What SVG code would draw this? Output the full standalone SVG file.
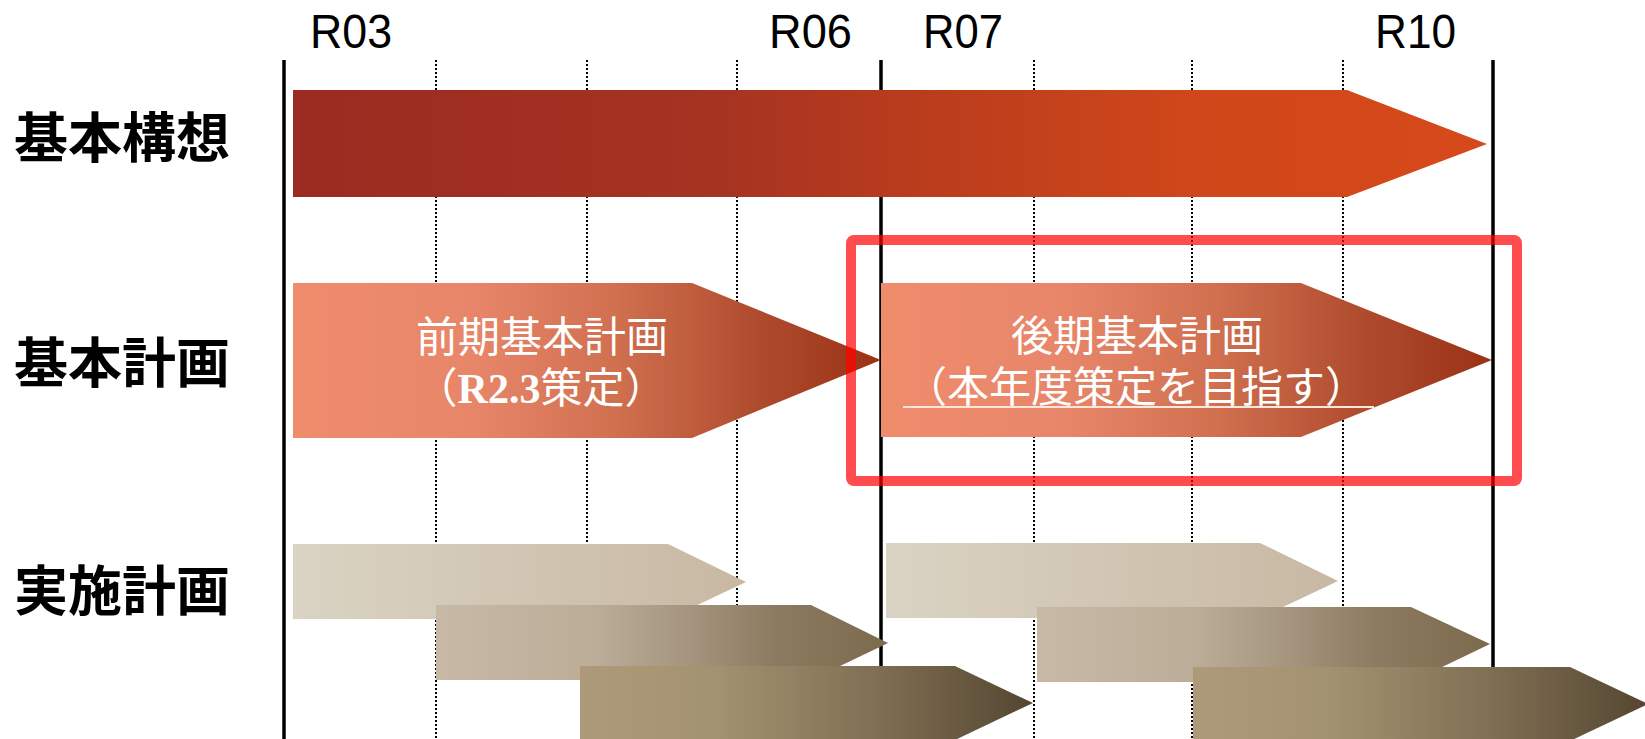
<svg xmlns="http://www.w3.org/2000/svg" width="1645" height="739" viewBox="0 0 1645 739">
  <style>
    .year { font-family: "Liberation Sans", "DejaVu Sans", sans-serif; font-size: 48px; fill: #000; }
    .label { font-family: "Noto Sans CJK JP", sans-serif; font-size: 54px; font-weight: bold; fill: #000; }
    .inner { font-family: "Liberation Serif", "Noto Sans CJK JP", serif; font-size: 42px; fill: #fff; text-anchor: middle; }
    .dot { stroke: #000; stroke-width: 2; stroke-dasharray: 2 2; fill: none; }
    .solid { stroke: #000; stroke-width: 3.5; fill: none; }
  </style>
  <defs>
    <linearGradient id="gTop" x1="0" y1="0" x2="1" y2="0">
      <stop offset="0" stop-color="#9B2B21"/>
      <stop offset="0.35" stop-color="#A53322"/>
      <stop offset="0.5" stop-color="#B73B1D"/>
      <stop offset="0.75" stop-color="#CF471A"/>
      <stop offset="1" stop-color="#D6491A"/>
    </linearGradient>
    <linearGradient id="gPlan" x1="0" y1="0" x2="1" y2="0">
      <stop offset="0" stop-color="#EF8C6C"/>
      <stop offset="0.3" stop-color="#E8866A"/>
      <stop offset="0.55" stop-color="#D0704F"/>
      <stop offset="0.8" stop-color="#AE4A2C"/>
      <stop offset="1" stop-color="#9B3216"/>
    </linearGradient>
    <linearGradient id="gA" x1="0" y1="0" x2="1" y2="0">
      <stop offset="0" stop-color="#DAD3C3"/>
      <stop offset="1" stop-color="#C8B8A3"/>
    </linearGradient>
    <linearGradient id="gB" x1="0" y1="0" x2="1" y2="0">
      <stop offset="0" stop-color="#C8B9A6"/>
      <stop offset="0.35" stop-color="#BBAD98"/>
      <stop offset="0.55" stop-color="#A69680"/>
      <stop offset="0.75" stop-color="#8C7B60"/>
      <stop offset="1" stop-color="#7C6A4D"/>
    </linearGradient>
    <linearGradient id="gC" x1="0" y1="0" x2="1" y2="0">
      <stop offset="0" stop-color="#AD9A7A"/>
      <stop offset="0.3" stop-color="#A39270"/>
      <stop offset="0.6" stop-color="#857558"/>
      <stop offset="1" stop-color="#554631"/>
    </linearGradient>
  </defs>
  <rect width="1645" height="739" fill="#fff"/>

  <g id="grid">
    <line class="dot" x1="436" y1="60" x2="436" y2="739"/>
    <line class="dot" x1="587" y1="60" x2="587" y2="739"/>
    <line class="dot" x1="737" y1="60" x2="737" y2="739"/>
    <line class="dot" x1="1034" y1="60" x2="1034" y2="739"/>
    <line class="dot" x1="1192" y1="60" x2="1192" y2="739"/>
    <line class="dot" x1="1343" y1="60" x2="1343" y2="739"/>
    <line class="solid" x1="284" y1="60" x2="284" y2="739"/>
    <line class="solid" x1="881" y1="60" x2="881" y2="739"/>
    <line class="solid" x1="1493" y1="60" x2="1493" y2="739"/>
  </g>

  <g id="years">
    <text class="year" x="310" y="48" textLength="82" lengthAdjust="spacingAndGlyphs">R03</text>
    <text class="year" x="769" y="48" textLength="83" lengthAdjust="spacingAndGlyphs">R06</text>
    <text class="year" x="923" y="48" textLength="80" lengthAdjust="spacingAndGlyphs">R07</text>
    <text class="year" x="1375" y="48" textLength="81" lengthAdjust="spacingAndGlyphs">R10</text>
  </g>

  <g id="label-kihonkoso"><text class="label" x="14" y="158">基本構想</text></g>
  <g id="label-kihonkeikaku"><text class="label" x="14" y="383">基本計画</text></g>
  <g id="label-jisshikeikaku"><text class="label" x="14" y="611">実施計画</text></g>

  <g id="arrow-kihonkoso">
    <polygon points="293,90 1347,90 1487,144 1347,197 293,197" fill="url(#gTop)"/>
  </g>

  <g id="arrow-zenki">
    <polygon points="293,283 692,283 881,360 692,438 293,438" fill="url(#gPlan)"/>
    <text class="inner" x="542" y="352">前期基本計画</text>
    <text class="inner" x="541" y="403">（<tspan font-weight="bold">R2.3</tspan>策定）</text>
  </g>

  <g id="arrow-koki">
    <polygon points="881,283 1301,283 1492,360 1301,437 881,437" fill="url(#gPlan)"/>
    <text class="inner" x="1137" y="351">後期基本計画</text>
    <text class="inner" x="1136" y="402">（本年度策定を目指す）</text>
    <line x1="903" y1="407" x2="1374" y2="407" stroke="#F8E6DE" stroke-width="2"/>
  </g>

  <g id="jisshi-a"><polygon points="293,544 668,544 746,582 668,619 293,619" fill="url(#gA)"/></g>
  <g id="jisshi-b"><polygon points="436,605 811,605 888,643 811,680 436,680" fill="url(#gB)"/></g>
  <g id="jisshi-c"><polygon points="580,666 955,666 1033,703 955,740 580,740" fill="url(#gC)"/></g>
  <g id="jisshi-d"><polygon points="886,543 1260,543 1338,581 1260,618 886,618" fill="url(#gA)"/></g>
  <g id="jisshi-e"><polygon points="1037,607 1411,607 1490,644 1411,682 1037,682" fill="url(#gB)"/></g>
  <g id="jisshi-f"><polygon points="1193,667 1570,667 1648,704 1570,741 1193,741" fill="url(#gC)"/></g>

  <g id="highlight">
    <rect x="851" y="240" width="666" height="241" rx="3" fill="none" stroke="#FF0000" stroke-opacity="0.7" stroke-width="10"/>
  </g>
</svg>
